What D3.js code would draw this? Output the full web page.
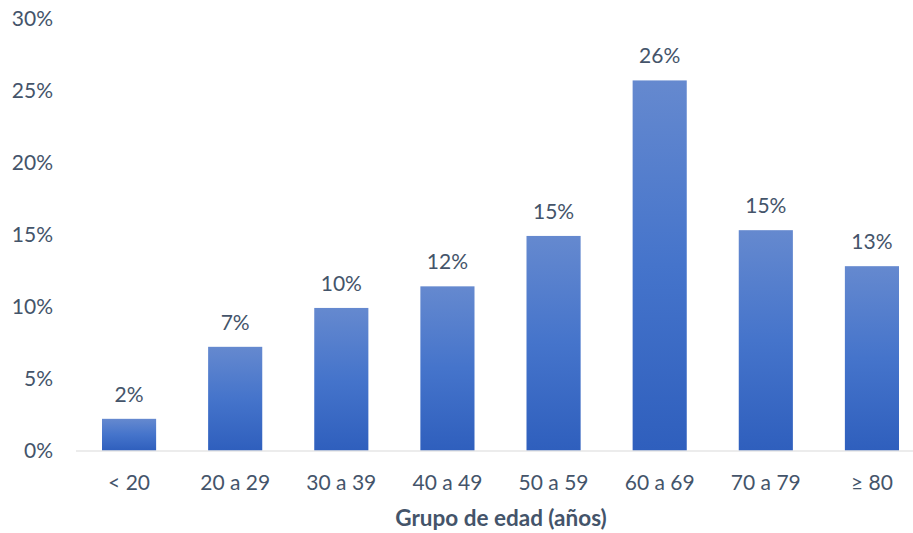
<!DOCTYPE html>
<html><head><meta charset="utf-8">
<script src="https://cdn.jsdelivr.net/npm/d3@7"></script>
<style>body{margin:0;background:#fff}svg{display:block}text{font-family:Lato,"Open Sans",sans-serif;fill:#44546a}</style>
</head><body>
<script>
const categories = ["< 20","20 a 29","30 a 39","40 a 49","50 a 59","60 a 69","70 a 79","≥ 80"];
const values = [2.2, 7.2, 9.9, 11.4, 14.9, 25.7, 15.3, 12.8];
const labels = ["2%","7%","10%","12%","15%","26%","15%","13%"];
const yTicks = [0,5,10,15,20,25,30];
const xTitle = "Grupo de edad (años)";

const W = 913, H = 533;
const svg = d3.select("body").append("svg").attr("width", W).attr("height", H);
const defs = svg.append("defs");
const grad = defs.append("linearGradient").attr("id","barg").attr("x1",0).attr("y1",0).attr("x2",0).attr("y2",1);
grad.append("stop").attr("offset","0%").attr("stop-color","#6589cf");
grad.append("stop").attr("offset","50%").attr("stop-color","#4574cb");
grad.append("stop").attr("offset","100%").attr("stop-color","#2f5fbd");

const x = d3.scaleBand().domain(categories).range([76, 925]).paddingInner(0.49).paddingOuter(0.245);
const y = d3.scaleLinear().domain([0, 30]).range([450.5, 18.5]);

// y tick labels
svg.append("g").selectAll("text").data(yTicks).join("text")
  .attr("x", 53).attr("y", d => y(d)).attr("dy", "0.35em")
  .attr("text-anchor", "end").style("font-size", "21px")
  .text(d => d + "%");

// bars
svg.append("g").selectAll("rect").data(values).join("rect")
  .attr("x", (d,i) => x(categories[i]))
  .attr("width", x.bandwidth())
  .attr("y", d => y(d))
  .attr("height", d => y(0) - y(d))
  .attr("fill", "url(#barg)");

// axis line
svg.append("line").attr("x1", 76).attr("x2", 913).attr("y1", y(0)+0.5).attr("y2", y(0)+0.5)
  .attr("stroke", "#d9d9d9").attr("stroke-width", 1.2);

// value labels
svg.append("g").selectAll("text").data(values).join("text")
  .attr("x", (d,i) => x(categories[i]) + x.bandwidth()/2)
  .attr("y", d => y(d) - 17)
  .attr("text-anchor", "middle").style("font-size", "21px")
  .text((d,i) => labels[i]);

// x labels
svg.append("g").selectAll("text").data(categories).join("text")
  .attr("x", d => x(d) + x.bandwidth()/2)
  .attr("y", 483).attr("dy", "0.35em")
  .attr("text-anchor", "middle").style("font-size", "21px")
  .text(d => d);

svg.append("text").attr("x", 501).attr("y", 526)
  .attr("text-anchor", "middle").style("font-size", "22.5px").style("font-weight", "bold")
  .text(xTitle);
</script>
</body></html>
